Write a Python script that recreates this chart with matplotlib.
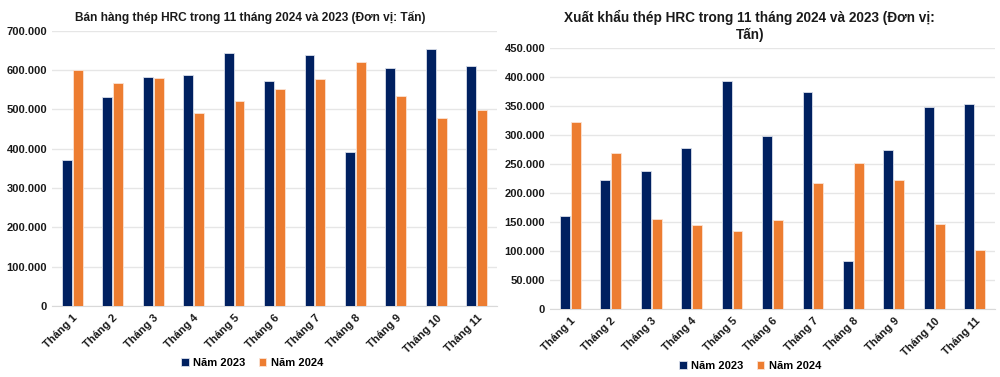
import matplotlib.pyplot as plt
import numpy as np
from matplotlib.ticker import FuncFormatter

months = ['Tháng 1', 'Tháng 2', 'Tháng 3', 'Tháng 4', 'Tháng 5', 'Tháng 6',
          'Tháng 7', 'Tháng 8', 'Tháng 9', 'Tháng 10', 'Tháng 11']

# Sales (tonnes)
sales_2023 = [370000, 530000, 581000, 587000, 642000, 573000, 637000, 391000, 605000, 652000, 609000]
sales_2024 = [600000, 568000, 580000, 491000, 522000, 551000, 578000, 620000, 533000, 477000, 499000]

# Export (tonnes)
export_2023 = [160000, 222000, 238000, 278000, 394000, 298000, 375000, 83000, 274000, 349000, 353000]
export_2024 = [322000, 270000, 155000, 145000, 134000, 153000, 217000, 252000, 223000, 146000, 102000]

NAVY = '#002060'
ORANGE = '#ED7D31'
GRID = '#E6E6E6'

plt.rcParams['font.family'] = ['Liberation Sans', 'DejaVu Sans']
plt.rcParams['font.weight'] = 'bold'

fig = plt.figure(figsize=(10, 3.77), dpi=100)


def dot_thousands(v, pos):
    return f"{int(v):,}".replace(',', '.')


def draw_panel(ax, y1, y2, title, ymax, step, title_size, title_x, legend_xy):
    x = np.arange(len(months))
    w = 0.245
    ax.bar(x - 0.135, y1, w, color=NAVY, edgecolor='#D9DEEA', linewidth=0.6, label='Năm 2023', zorder=3)
    ax.bar(x + 0.135, y2, w, color=ORANGE, edgecolor='#FBE3D3', linewidth=0.6, label='Năm 2024', zorder=3)
    ax.set_xlim(-0.5, len(months) - 0.5)
    ax.set_ylim(0, ymax)
    ax.set_yticks(np.arange(0, ymax + 1, step))
    ax.yaxis.set_major_formatter(FuncFormatter(dot_thousands))
    ax.grid(axis='y', color=GRID, linewidth=1, zorder=0)
    for s in ['top', 'right', 'left']:
        ax.spines[s].set_visible(False)
    ax.spines['bottom'].set_color('#D9D9D9')
    ax.tick_params(axis='both', length=0, labelsize=8, colors='#1a1a1a')
    ax.tick_params(axis='x', pad=5)
    ax.set_xticks(x)
    ax.set_xticklabels(months, rotation=45, ha='right', rotation_mode='anchor')
    ax.set_title(title, fontsize=title_size, fontweight='bold', color='#1a1a1a', pad=7, x=title_x)
    ax.legend(loc='center', bbox_to_anchor=legend_xy, bbox_transform=fig.transFigure, ncol=2,
              frameon=False, fontsize=8, handlelength=0.7, handleheight=0.7,
              columnspacing=1.2, handletextpad=0.4)


ax1 = fig.add_axes([0.052, 0.188, 0.445, 0.731])
draw_panel(ax1, sales_2023, sales_2024,
           'Bán hàng thép HRC trong 11 tháng 2024 và 2023 (Đơn vị: Tấn)', 700000, 100000,
           8.6, 0.445, (0.252, 0.037))

ax2 = fig.add_axes([0.550, 0.180, 0.445, 0.692])
draw_panel(ax2, export_2023, export_2024,
           'Xuất khẩu thép HRC trong 11 tháng 2024 và 2023 (Đơn vị:\nTấn)', 450000, 50000,
           9.8, 0.449, (0.750, 0.029))

fig.savefig('out.png', dpi=100)
